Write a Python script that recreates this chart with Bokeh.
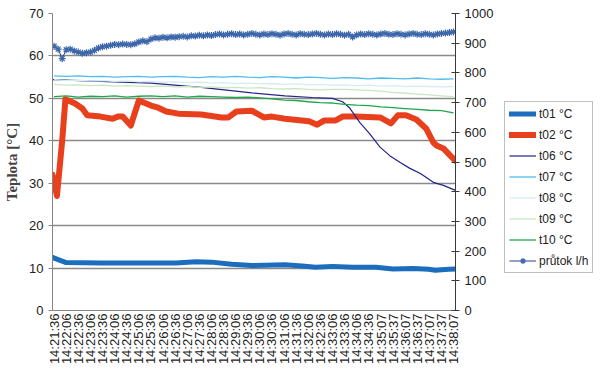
from bokeh.plotting import figure
from bokeh.models import Range1d, LinearAxis, FixedTicker, Legend, LegendItem
from bokeh.layouts import row
from bokeh.embed import file_html
from bokeh.resources import INLINE
import math

# ---------------- data ----------------
time_labels = ["14:21:36", "14:22:06", "14:22:36", "14:23:06", "14:23:36", "14:24:06",
               "14:24:36", "14:25:06", "14:25:36", "14:26:06", "14:26:36", "14:27:06",
               "14:27:36", "14:28:06", "14:28:36", "14:29:06", "14:29:36", "14:30:06",
               "14:30:36", "14:31:06", "14:31:36", "14:32:06", "14:32:36", "14:33:06",
               "14:33:36", "14:34:06", "14:34:36", "14:35:07", "14:35:37", "14:36:07",
               "14:36:37", "14:37:07", "14:37:37", "14:38:07"]

# seconds since 14:21:36
t01_t = [-4, 10, 30, 115, 240, 302, 352, 390, 440, 490, 572, 615, 648, 690, 740, 798,
         840, 890, 928, 945, 978, 995]
t01_v = [12.5, 12.0, 11.3, 11.2, 11.2, 11.2, 11.5, 11.4, 10.9, 10.6, 10.8, 10.5, 10.2,
         10.4, 10.2, 10.2, 9.8, 9.9, 9.7, 9.5, 9.7, 9.8]

t02_t = [-4, 7, 20, 28, 52, 70, 82, 115, 145, 158, 170, 190, 210, 240, 258, 278, 308,
         365, 415, 432, 452, 490, 520, 540, 572, 632, 652, 670, 698, 715, 748, 808, 835,
         852, 872, 898, 922, 940, 948, 965, 982, 995]
t02_v = [32.0, 27.0, 40.0, 49.8, 48.8, 47.6, 46.0, 45.7, 45.2, 45.7, 45.7, 43.6, 49.5,
         48.3, 47.8, 46.9, 46.4, 46.2, 45.5, 45.5, 46.9, 47.1, 45.5, 45.7, 45.2, 44.6,
         43.8, 44.8, 44.8, 45.7, 45.7, 45.5, 44.1, 46.0, 46.0, 45.0, 42.9, 39.6, 38.9,
         38.2, 36.5, 35.3]

t06_t = [-4, 115, 240, 365, 490, 572, 640, 690, 715, 732, 758, 782, 808, 832, 858, 882,
         908, 940, 965, 995]
t06_v = [54.4, 54.0, 53.6, 52.6, 51.3, 50.6, 50.2, 50.0, 49.2, 47.8, 44.3, 41.7, 38.5,
         36.5, 34.9, 33.5, 32.3, 30.2, 29.5, 28.3]

t30 = [0, 30, 60, 90, 120, 150, 180, 210, 240, 270, 300, 330, 360, 390, 420, 450, 480,
       510, 540, 570, 600, 630, 660, 690, 720, 750, 780, 810, 840, 870, 900, 930, 960, 990]
t07_v = [55.3, 55.2, 55.3, 55.1, 55.2, 55.0, 55.1, 55.2, 55.0, 55.1, 55.2, 55.0, 54.9,
         55.1, 55.0, 55.2, 55.0, 54.9, 55.1, 55.0, 54.8, 55.0, 54.9, 54.7, 54.9, 54.8,
         54.6, 54.8, 54.7, 54.6, 54.8, 54.6, 54.5, 54.6]
t08_v = [54.4, 54.2, 54.3, 54.1, 54.2, 54.0, 54.1, 53.9, 54.0, 53.8, 53.9, 53.7, 53.8,
         53.6, 53.7, 53.5, 53.6, 53.4, 53.5, 53.3, 53.4, 53.2, 53.3, 53.1, 53.2, 53.0,
         53.1, 52.9, 53.0, 52.8, 52.9, 52.8, 52.7, 52.8]
t09_v = [53.3, 53.1, 53.2, 53.0, 53.1, 52.9, 53.0, 52.9, 52.8, 52.9, 52.7, 52.8, 52.6,
         52.7, 52.5, 52.6, 52.4, 52.5, 52.3, 52.2, 52.3, 52.1, 52.0, 52.1, 52.1, 52.0,
         51.9, 51.7, 51.4, 51.2, 51.0, 50.8, 50.6, 50.4]
t10_v = [50.4, 50.6, 50.3, 50.5, 50.4, 50.6, 50.3, 50.5, 50.6, 50.4, 50.6, 50.3, 50.5,
         50.4, 50.3, 50.2, 50.3, 50.1, 49.9, 49.6, 49.5, 49.2, 49.0, 48.9, 48.6, 48.4,
         48.3, 48.0, 47.8, 47.6, 47.4, 47.2, 47.1, 46.6]

flow_t = [0, 10, 20, 30, 40, 50, 60, 70, 80, 90, 100, 110, 120, 130, 140, 150, 160, 170,
          180, 190, 200, 210, 220, 230, 240, 250, 260, 270, 280, 290, 300, 310, 320, 330,
          340, 350, 360, 370, 380, 390, 400, 410, 420, 430, 440, 450, 460, 470, 480, 490,
          500, 510, 520, 530, 540, 550, 560, 570, 580, 590, 600, 610, 620, 630, 640, 650,
          660, 670, 680, 690, 700, 710, 720, 730, 740, 750, 760, 770, 780, 790, 800, 810,
          820, 830, 840, 850, 860, 870, 880, 890, 900, 910, 920, 930, 940, 950, 960, 970,
          980, 990]
flow_v = [890, 880, 848, 878, 880, 874, 870, 866, 868, 870, 876, 884, 888, 890, 893, 896,
          895, 897, 896, 895, 898, 904, 908, 905, 914, 918, 917, 920, 918, 921, 920, 922,
          923, 921, 925, 924, 927, 925, 928, 926, 929, 931, 928, 930, 932, 929, 931, 928,
          930, 933, 930, 928, 931, 929, 932, 930, 927, 931, 933, 930, 928, 932, 930, 929,
          931, 933, 930, 928, 931, 929, 932, 930, 927, 930, 921, 928, 931, 929, 932, 930,
          928, 931, 933, 930, 929, 932, 930, 928, 931, 933, 930, 929, 932, 930, 928, 931,
          933, 934, 936, 938]

series_labels = ["t01 °C", "t02 °C", "t06 °C", "t07 °C", "t08 °C", "t09 °C", "t10 °C",
                 "průtok l/h"]


def secs(lbl):
    h, m, s = (int(x) for x in lbl.split(":"))
    return h * 3600 + m * 60 + s


t0 = secs(time_labels[0])
tick_pos = [secs(l) - t0 for l in time_labels]

FONT = "Liberation Sans"

# series styles
styles = [
    dict(line_color="#1C6DBE", line_width=5, line_join="round", line_cap="round"),
    dict(line_color="#E8401C", line_width=6, line_join="round", line_cap="round"),
    dict(line_color="#23238C", line_width=1.2),
    dict(line_color="#4EBDEB", line_width=1.3),
    dict(line_color="#D6EDF3", line_width=1.3),
    dict(line_color="#CBE6C3", line_width=1.3),
    dict(line_color="#1FA64A", line_width=1.3),
]
flow_line_style = dict(line_color="#2B3F8F", line_width=1)
flow_marker_style = dict(marker="asterisk", size=7, line_color="#3C66AA", line_width=1.2)

temps = [(t01_t, t01_v), (t02_t, t02_v), (t06_t, t06_v), (t30, t07_v), (t30, t08_v),
         (t30, t09_v), (t30, t10_v)]

# ---------------- main figure ----------------
p = figure(width=500, height=375, output_backend="svg", toolbar_location=None,
           x_range=Range1d(-4, 995), y_range=Range1d(0, 70),
           min_border_left=52, min_border_right=45, min_border_top=13,
           min_border_bottom=65)
p.outline_line_color = None
p.background_fill_color = "white"
p.extra_y_ranges = {"flow": Range1d(0, 1000)}

# left axis
ya = p.yaxis[0]
ya.ticker = FixedTicker(ticks=[0, 10, 20, 30, 40, 50, 60, 70])
ya.axis_label = "Teplota [°C]"
ya.axis_label_text_font = "Liberation Serif"
ya.axis_label_text_font_style = "bold"
ya.axis_label_text_font_size = "15px"
ya.axis_label_standoff = 6
ya.major_label_text_font = FONT
ya.major_label_text_font_size = "13px"
ya.major_label_text_color = "#222222"
ya.axis_line_color = "#868686"
ya.major_tick_line_color = "#868686"
ya.major_tick_in = 0
ya.major_tick_out = 4
ya.minor_tick_line_color = None

# right axis
ra = LinearAxis(y_range_name="flow", ticker=FixedTicker(ticks=list(range(0, 1001, 100))))
ra.major_label_text_font = FONT
ra.major_label_text_font_size = "13px"
ra.major_label_text_color = "#222222"
ra.axis_line_color = "#3a3a3a"
ra.major_tick_line_color = "#3a3a3a"
ra.major_tick_in = 4
ra.major_tick_out = 4
ra.minor_tick_line_color = None
p.add_layout(ra, "right")

# bottom axis
xa = p.xaxis[0]
xa.ticker = FixedTicker(ticks=tick_pos)
xa.major_label_overrides = {tp: l for tp, l in zip(tick_pos, time_labels)}
xa.major_label_orientation = math.pi / 2
xa.major_label_text_font = FONT
xa.major_label_text_font_size = "13px"
xa.major_label_text_color = "#222222"
xa.axis_line_color = "#868686"
xa.major_tick_in = 0
xa.major_tick_out = 0
xa.minor_tick_line_color = None
xa.major_label_standoff = 3

p.xgrid.grid_line_color = None
p.ygrid.grid_line_color = "#8a8a8a"
p.ygrid.grid_line_width = 1.4

for (tx, tv), st in zip(temps, styles):
    p.line(tx, tv, **st)
p.line(flow_t, flow_v, y_range_name="flow", **flow_line_style)
p.scatter(flow_t, flow_v, y_range_name="flow", **flow_marker_style)

# ---------------- legend panel (same series, ranges set so only the key shows) ----------------
lg = figure(width=100, height=375, output_backend="svg", toolbar_location=None,
            x_range=Range1d(5000, 6000), y_range=Range1d(5000, 6000),
            min_border_left=0, min_border_right=0, min_border_top=13, min_border_bottom=65)
lg.axis.visible = False
lg.grid.visible = False
lg.outline_line_color = None

items = []
for lab, (tx, tv), st in zip(series_labels[:7], temps, styles):
    r = lg.line(tx, tv, **st)
    items.append(LegendItem(label=lab, renderers=[r]))
rl = lg.line(flow_t, flow_v, **flow_line_style)
rm = lg.scatter(flow_t, flow_v, **flow_marker_style)
items.append(LegendItem(label=series_labels[7], renderers=[rl, rm]))

legend = Legend(items=items, location=(4, 37))
legend.label_text_font = FONT
legend.label_text_font_size = "12px"
legend.label_text_color = "#222222"
legend.glyph_width = 27
legend.glyph_height = 15
legend.label_height = 15
legend.spacing = 6
legend.padding = 4
legend.margin = 0
legend.label_standoff = 3
legend.border_line_color = "#808080"
legend.border_line_width = 1
legend.background_fill_color = "white"
legend.background_fill_alpha = 1
lg.add_layout(legend, "center")

layout = row(p, lg, spacing=0)
open("out.html", "w").write(file_html(layout, INLINE))
